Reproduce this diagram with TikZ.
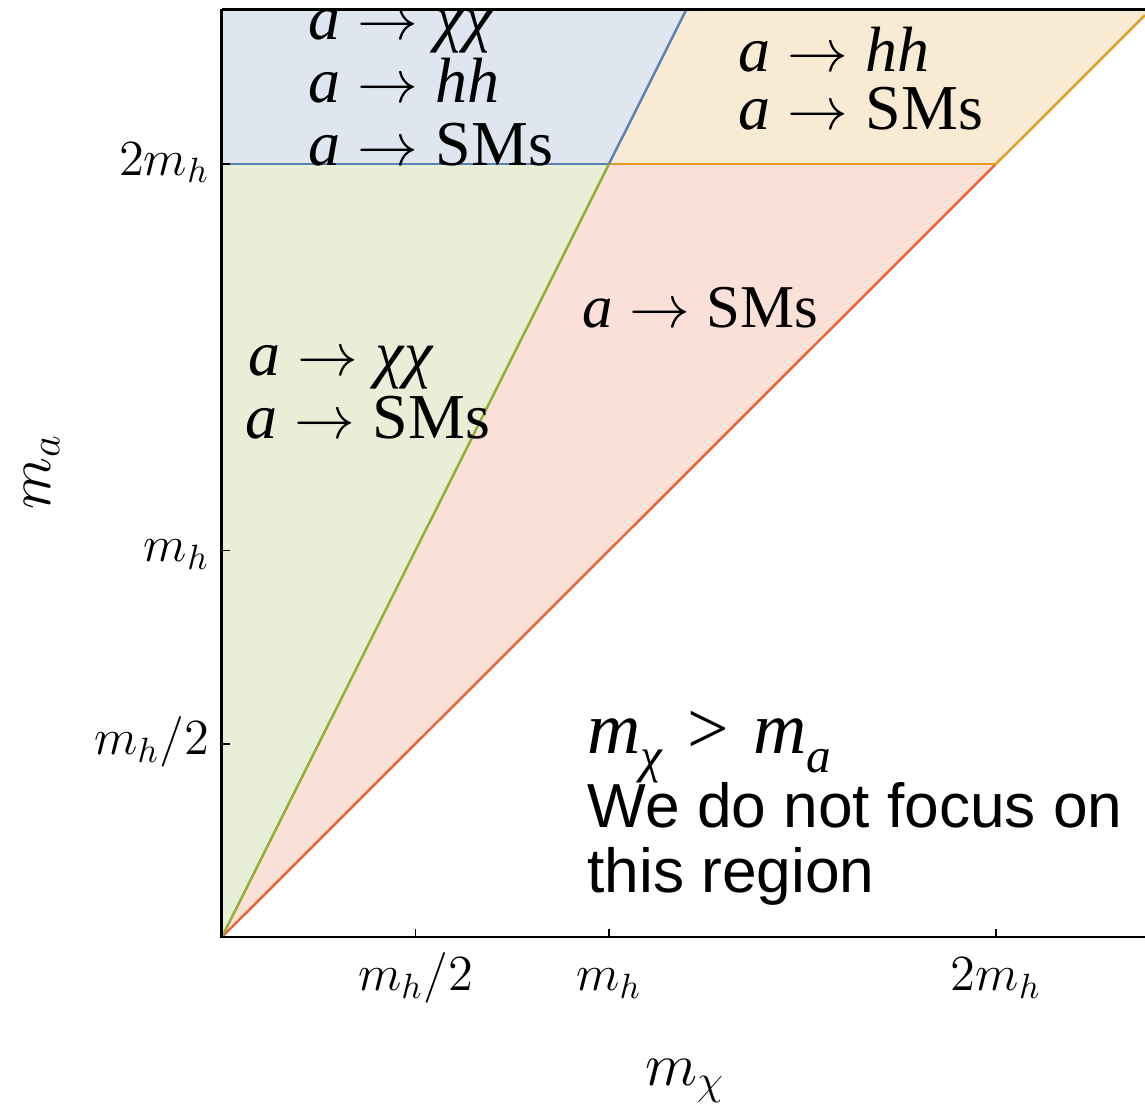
\documentclass[tikz,border=0pt]{standalone}
\usepackage{fontspec}
\setmainfont{Liberation Serif}
\newfontfamily\arialfont{Liberation Sans}
\usetikzlibrary{positioning}

\definecolor{mblue}{rgb}{0.368417,0.506779,0.709798}
\definecolor{morange}{rgb}{0.880722,0.611041,0.142051}
\definecolor{mgreen}{rgb}{0.560181,0.691569,0.194885}
\definecolor{mred}{rgb}{0.922526,0.385626,0.209179}

\newcommand{\subtxt}[1]{\raisebox{-0.26em}{\fontsize{14}{14}\selectfont #1}}
\newcommand{\dec}{\hspace{0.27em}$\rightarrow$\hspace{0.27em}}

\tikzset{
  border/.style={line width=0.85pt, black},
  bound/.style={line width=0.7pt},
  decay/.style={anchor=base west, inner sep=0pt, font=\fontsize{18.2}{21}\selectfont},
  ticklab/.style={inner sep=0pt, font=\fontsize{14.5}{17}\selectfont},
  axislab/.style={inner sep=0pt, font=\fontsize{17.5}{21}\selectfont},
}

\begin{document}
\begin{tikzpicture}[x=3.87cm,y=3.865cm]
\useasboundingbox (-0.5736,-0.4321) rectangle (2.385,2.4243);

% corners of the regions (units of m_h)
\coordinate (O) at (0,0);
\coordinate (A) at (1,2);
\coordinate (B) at (2,2);
\coordinate (L) at (0,2);
\coordinate (TL) at (0,2.4);
\coordinate (TA) at (1.2,2.4);
\coordinate (TR) at (2.385,2.4);
\coordinate (RB) at (2.385,2.385);
\coordinate (XR) at (2.385,0);

\fill[mgreen!20] (O) -- (A) -- (L) -- cycle;
\fill[mred!20] (O) -- (B) -- (A) -- cycle;
\fill[mblue!20] (L) -- (A) -- (TA) -- (TL) -- cycle;
\fill[morange!20] (A) -- (B) -- (RB) -- (TR) -- (TA) -- cycle;

\draw[bound, mred] (O) -- (B);
\draw[bound, morange] (B) -- (RB);
\draw[bound, morange] (A) -- (B);
\draw[bound, mblue] (L) -- (A);
\draw[bound, mgreen] (O) -- (A);
\draw[bound, mblue] (A) -- (TA);

% decay channels
\begin{scope}
\clip (TL) rectangle (XR);
\node[decay] (blueA) at (0.222,2.321) {\textit{a}\dec\textit{χχ}};
\node[decay] (blueB) at (0.222,2.158) {\textit{a}\dec\textit{hh}};
\node[decay] (blueC) at (0.222,1.997) {\textit{a}\dec SMs};
\end{scope}

\node[decay] (orangeA) at (1.333,2.238) {\textit{a}\dec\textit{hh}};
\node[decay] (orangeB) at (1.333,2.088) {\textit{a}\dec SMs};

\node[decay, font=\fontsize{17.3}{21}\selectfont] (redA) at (0.930,1.576) {\textit{a}\dec SMs};

\node[decay] (greenA) at (0.067,1.454) {\textit{a}\dec\textit{χχ}};
\node[decay] (greenB) at (0.059,1.291) {\textit{a}\dec SMs};

% frame
\draw[border] (TL) -- (O) -- (XR);
\draw[border] (TL) -- (TR);

% ticks
\foreach \t/\lab/\nm in {0.5/{m_h/2}/xa, 1/{m_h}/xb, 2/{2m_h}/xc} {
  \draw[border, line width=0.5pt] (\t,0) -- (\t,0.02);
  \node[ticklab, anchor=base] (\nm) at (\t,-0.1397) {$\lab$};
}
\foreach \t/\lab/\nm in {0.5/{m_h/2}/ya, 1/{m_h}/yb, 2/{2m_h}/yc} {
  \draw[border, line width=0.5pt] (0,\t) -- (0.02,\t);
  \node[ticklab, anchor=base east] (\nm) at (-0.031,\t-0.029) {$\lab$};
}

\node[axislab, anchor=base] (xlab) at (1.196,-0.383) {$m_\chi$};
\node[axislab, anchor=base, rotate=90] (ylab) at (-0.444,1.203) {$m_a$};

% excluded corner
\node[decay, font=\fontsize{21}{24}\selectfont] (ineq) at (0.943,0.476)
  {\textit{m\subtxt{χ}}\,\,>\,\,\textit{m\subtxt{a}}};
\node[decay, font=\arialfont\fontsize{17.7}{21}\selectfont] (noteA) at (0.943,0.282) {We do not focus on};
\node[decay, font=\arialfont\fontsize{17.7}{21}\selectfont] (noteB) at (0.943,0.116) {this region};

\end{tikzpicture}
\end{document}
